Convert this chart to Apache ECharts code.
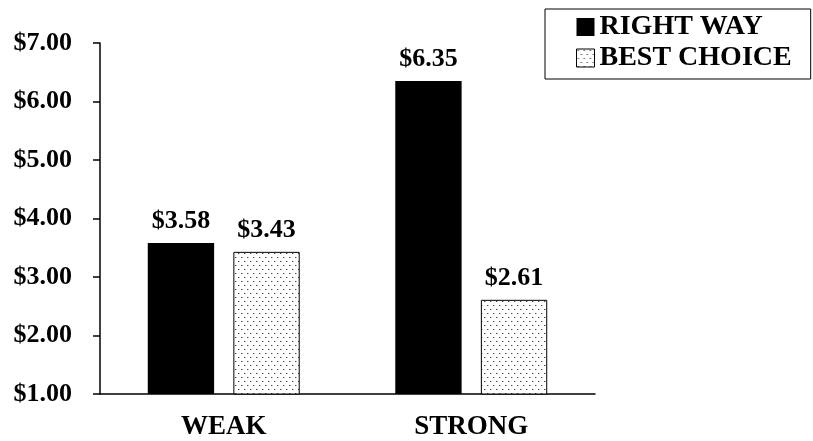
<!DOCTYPE html>
<html>
<head>
<meta charset="utf-8">
<style>
  html, body { margin: 0; padding: 0; background: #fff; }
  #chart { width: 813px; height: 441px; }
</style>
<script src="https://cdn.jsdelivr.net/npm/echarts@6/dist/echarts.min.js"></script>
</head>
<body>
<div id="chart"></div>
<script>
// Price comparison by condition
const categories = ['WEAK', 'STRONG'];
const seriesNames = ['RIGHT WAY', 'BEST CHOICE'];
const rightWay = [3.58, 6.35];
const bestChoice = [3.43, 2.61];
const yTicks = { min: 1, max: 7, step: 1 };

const FONT = '"Liberation Serif", "Times New Roman", serif';

// Stippled fill: small grey dots on a staggered grid
function dotPattern() {
  const c = document.createElement('canvas');
  c.width = 6; c.height = 8;
  const g = c.getContext('2d');
  g.fillStyle = '#fff';
  g.fillRect(0, 0, 6, 8);
  g.fillStyle = '#444';
  g.fillRect(1, 1, 1, 1);
  g.fillRect(4, 5, 1, 1);
  g.fillStyle = '#bbb';
  g.fillRect(2, 1, 1, 1);
  g.fillRect(5, 5, 1, 1);
  return { image: c, repeat: 'repeat' };
}
const dots = dotPattern();

const money = v => '$' + Number(v).toFixed(2);

const chart = echarts.init(document.getElementById('chart'), null, { renderer: 'canvas' });

const labelStyle = {
  show: true,
  position: 'top',
  distance: 9,
  formatter: p => money(p.value),
  fontFamily: FONT,
  fontWeight: 'bold',
  fontSize: 26,
  color: '#000'
};

chart.setOption({
  animation: false,
  backgroundColor: '#fff',
  grid: { left: 100, right: 218, top: 43, bottom: 45, containLabel: false },
  legend: {
    orient: 'vertical',
    left: 545,
    top: 9,
    padding: [3, 19, 6, 31],
    itemGap: 1,
    itemWidth: 18,
    itemHeight: 18,
    icon: 'rect',
    borderColor: '#000',
    borderWidth: 1,
    textStyle: {
      fontFamily: FONT,
      fontWeight: 'bold',
      fontSize: 28,
      lineHeight: 30,
      color: '#000'
    },
    data: [
      { name: seriesNames[0], itemStyle: { color: '#000', borderWidth: 0 } },
      { name: seriesNames[1], itemStyle: { color: dots, borderColor: '#000', borderWidth: 1 } }
    ]
  },
  xAxis: {
    type: 'category',
    data: categories,
    axisLine: { lineStyle: { color: '#000', width: 1.5 } },
    axisTick: { show: false },
    axisLabel: {
      margin: 20,
      fontFamily: FONT,
      fontWeight: 'bold',
      fontSize: 27,
      color: '#000'
    }
  },
  yAxis: {
    type: 'value',
    min: yTicks.min,
    max: yTicks.max,
    interval: yTicks.step,
    axisLine: { show: true, lineStyle: { color: '#000', width: 1.5 } },
    axisTick: { show: true, length: 7, lineStyle: { color: '#000', width: 1.5 } },
    splitLine: { show: false },
    axisLabel: {
      margin: 28,
      formatter: money,
      fontFamily: FONT,
      fontWeight: 'bold',
      fontSize: 26,
      color: '#000'
    }
  },
  series: [
    {
      name: seriesNames[0],
      type: 'bar',
      data: rightWay,
      barGap: '29%',
      barCategoryGap: '38.6%',
      itemStyle: { color: '#000' },
      label: labelStyle
    },
    {
      name: seriesNames[1],
      type: 'bar',
      data: bestChoice,
      itemStyle: { color: dots, borderColor: '#000', borderWidth: 1 },
      label: labelStyle
    }
  ]
});
</script>
</body>
</html>
